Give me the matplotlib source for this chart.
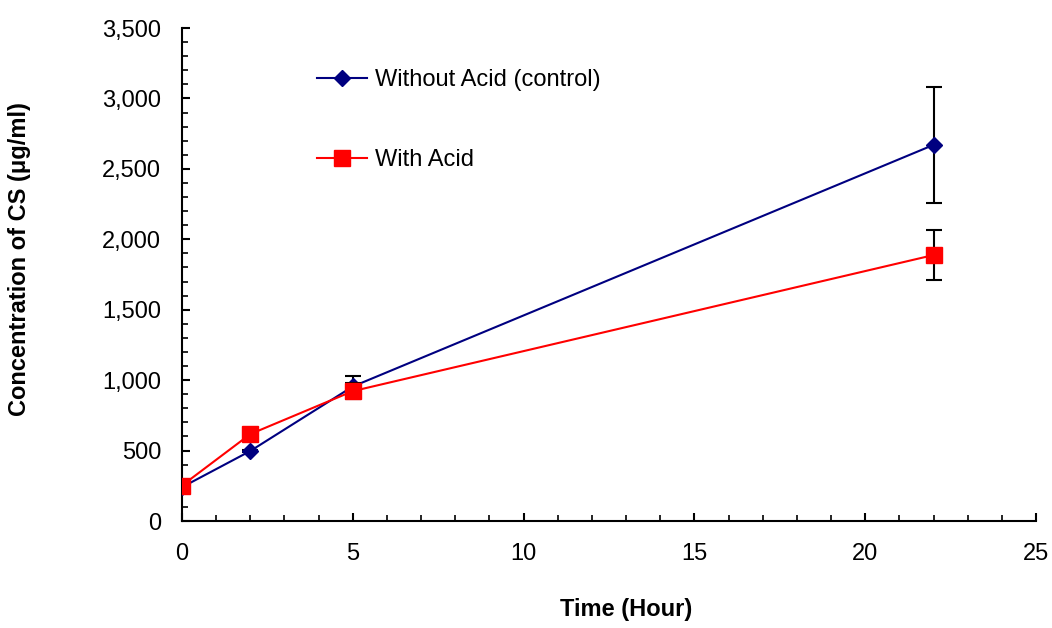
import matplotlib
matplotlib.use("Agg")
import matplotlib.pyplot as plt
from matplotlib.ticker import MultipleLocator, FuncFormatter

# Sampling times (hours)
time_h = [0, 2, 5, 22]

# Concentration of CS (ug/ml) and standard deviations
without_acid = [240, 497, 955, 2670]
without_acid_err = [10, 10, 75, 410]
with_acid = [252, 617, 922, 1888]
with_acid_err = [10, 10, 55, 178]

x_ticks = [0, 5, 10, 15, 20, 25]
y_ticks = [0, 500, 1000, 1500, 2000, 2500, 3000, 3500]

plt.rcParams["font.family"] = ["Liberation Sans", "DejaVu Sans"]
FS = 17

fig = plt.figure(figsize=(10.52, 6.28), dpi=100)
ax = fig.add_axes([182 / 1052, 107 / 628, 854 / 1052, 493 / 628])

ax.errorbar(time_h, without_acid, yerr=without_acid_err, fmt="none",
            ecolor="black", elinewidth=1.5, capsize=6, capthick=1.5, zorder=2)
ax.plot(time_h, without_acid, color="#000080", lw=1.5, marker="D",
        markersize=8.5, markerfacecolor="#000080", markeredgecolor="#000080",
        label="Without Acid (control)", zorder=3)
ax.errorbar(time_h, with_acid, yerr=with_acid_err, fmt="none",
            ecolor="black", elinewidth=1.5, capsize=6, capthick=1.5, zorder=4)
ax.plot(time_h, with_acid, color="#ff0000", lw=1.5, marker="s",
        markersize=11.5, markerfacecolor="#ff0000", markeredgecolor="#ff0000",
        label="With Acid", zorder=5)

ax.set_xlim(0, 25)
ax.set_ylim(0, 3500)
ax.set_xticks(x_ticks)
ax.set_yticks(y_ticks)
ax.xaxis.set_minor_locator(MultipleLocator(1))
ax.yaxis.set_minor_locator(MultipleLocator(100))
ax.yaxis.set_major_formatter(FuncFormatter(lambda v, p: f"{int(v):,}"))

for side in ("top", "right"):
    ax.spines[side].set_visible(False)
for side in ("left", "bottom"):
    ax.spines[side].set_linewidth(1.5)

ax.tick_params(which="major", direction="in", length=6, width=1.5, labelsize=FS)
ax.tick_params(axis="x", which="major", pad=15.5)
ax.tick_params(axis="y", which="major", pad=15)
ax.tick_params(which="minor", direction="in", length=4, width=1.2)

ax.set_xlabel("Time (Hour)", fontsize=FS, fontweight="bold")
ax.set_ylabel("Concentration of CS (\u03bcg/ml)", fontsize=FS, fontweight="bold")
ax.xaxis.set_label_coords(0.52, -0.18)
ax.xaxis.label.set_va("center")
ax.yaxis.set_label_coords(-0.19, 0.531)
ax.yaxis.label.set_va("center")

ax.legend(loc="upper left", bbox_to_anchor=(0.158, 0.917), frameon=False,
          fontsize=FS, labelspacing=2.45, handlelength=2.12,
          handletextpad=0.34, borderpad=0, borderaxespad=0)

fig.savefig("out.png", dpi=100)
